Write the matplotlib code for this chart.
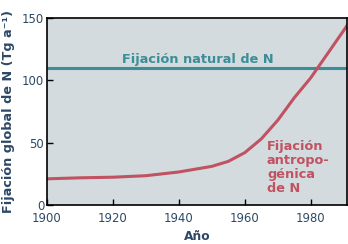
import matplotlib
matplotlib.use("Agg")
import matplotlib.pyplot as plt
from matplotlib.ticker import FixedLocator

years = [1900, 1910, 1920, 1930, 1940, 1950, 1955, 1960, 1965, 1970, 1975, 1980, 1985, 1990, 1991]
anthropogenic = [21, 21.8, 22.3, 23.5, 26.5, 31, 35, 42, 53, 68, 86, 102, 121, 140, 144]
natural_years = [1900, 1991]
natural = [110, 110]
xticks = [1900, 1920, 1940, 1960, 1980]
yticks = [0, 50, 100, 150]

bg = "#d3dbde"
teal = "#3b8d97"
red = "#c05262"
txt = "#2c4866"

fig = plt.figure(figsize=(3.48, 2.44), dpi=100)
ax = fig.add_axes([47/348, 1-205/244, 300/348, 187/244])
ax.set_facecolor(bg)
ax.plot(natural_years, natural, color=teal, lw=2.2, solid_capstyle="butt")
ax.plot(years, anthropogenic, color=red, lw=2.2, solid_capstyle="round")
ax.set_xlim(1900, 1991)
ax.set_ylim(0, 150)
ax.xaxis.set_major_locator(FixedLocator(xticks))
ax.yaxis.set_major_locator(FixedLocator(yticks))
ax.tick_params(direction="in", length=4, width=1, colors="black", labelcolor=txt, labelsize=8.4)
ax.tick_params(axis="x", pad=5)
ax.tick_params(axis="y", pad=2)
for s in ax.spines.values():
    s.set_linewidth(1.2)
    s.set_color("black")

ax.set_xlabel("Año", fontsize=8.8, fontweight="bold", color=txt, labelpad=4)
ax.set_ylabel("Fijación global de N (Tg a\u207b\u00b9)", fontsize=9.2, fontweight="bold", color=txt, labelpad=5)

ax.text(1922.7, 114, "Fijación natural de N", color=teal, fontsize=9.3, fontweight="bold", ha="left", va="baseline")
ax.text(1966.7, 10.4, "Fijación\nantropo-\ngénica\nde N", color=red, fontsize=9.3, fontweight="bold", ha="left", va="baseline", linespacing=1.1)

fig.savefig("out.png", dpi=100)
